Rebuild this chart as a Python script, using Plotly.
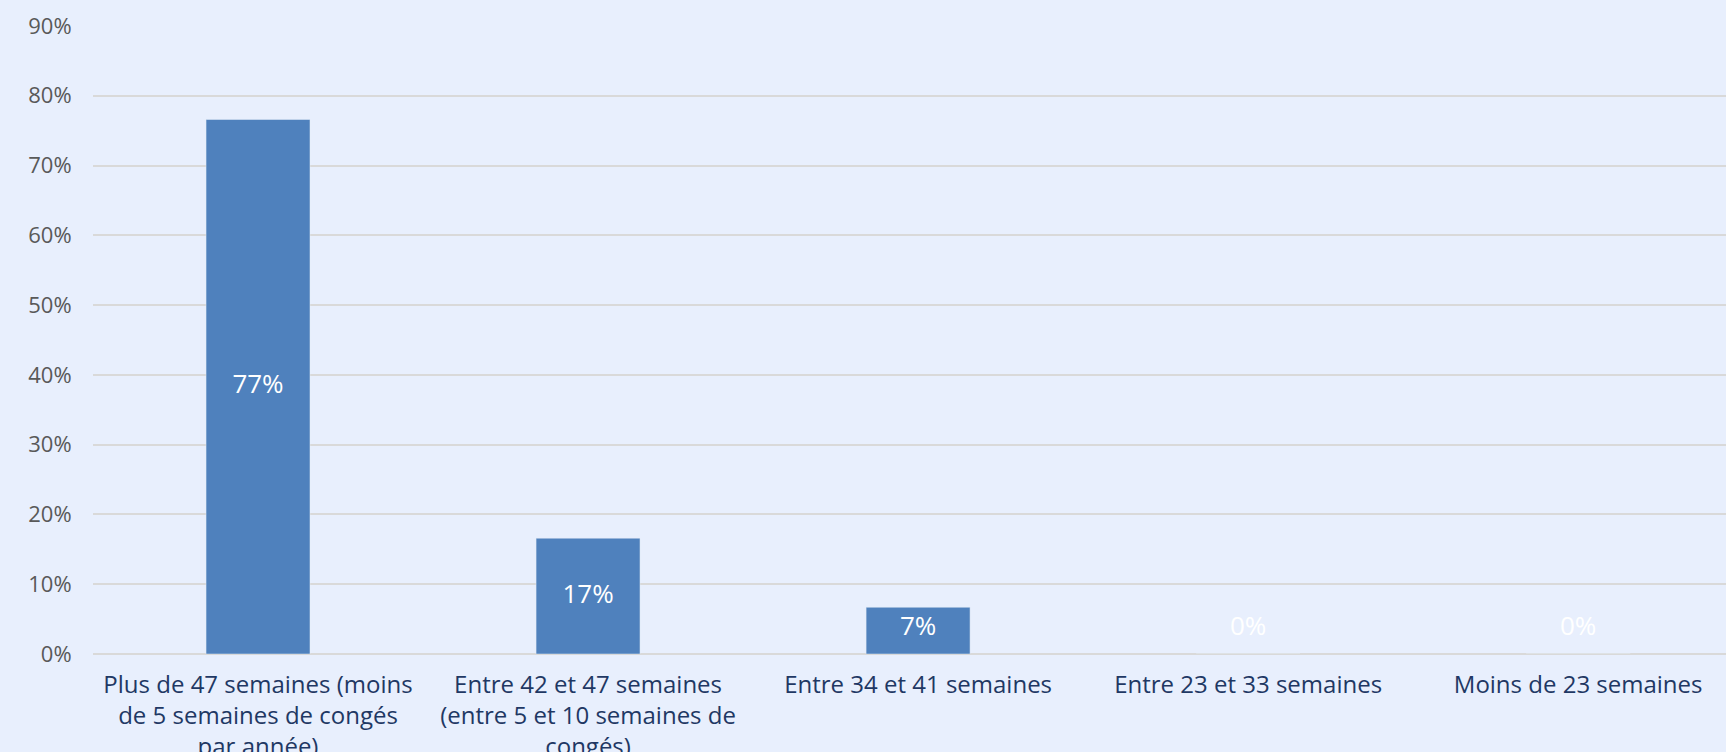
import plotly.graph_objects as go

categories = [
    "Plus de 47 semaines (moins<br>de 5 semaines de congés<br>par année)",
    "Entre 42 et 47 semaines<br>(entre 5 et 10 semaines de<br>congés)",
    "Entre 34 et 41 semaines",
    "Entre 23 et 33 semaines",
    "Moins de 23 semaines",
]
values = [76.6, 16.6, 6.7, 0.0, 0.0]
labels = ["77%", "17%", "7%", "0%", "0%"]
y_ticks = [0, 10, 20, 30, 40, 50, 60, 70, 80, 90]
y_tick_text = [f"{t}%" for t in y_ticks]

FONT = "Open Sans"
BG = "#e8effd"

fig = go.Figure()
fig.add_trace(go.Bar(
    x=categories, y=values, marker_color="#4f81bd", width=0.315,
    hoverinfo="skip", showlegend=False,
))
# value labels centred in bars (kept above a minimum height for tiny bars)
fig.add_trace(go.Scatter(
    x=categories, y=[max(v / 2, 3.7) for v in values], mode="text",
    text=labels, textfont=dict(family=FONT, size=26, color="white"),
    hoverinfo="skip", showlegend=False,
))

fig.update_layout(
    width=1726, height=752,
    paper_bgcolor=BG, plot_bgcolor=BG,
    margin=dict(l=93, r=0, t=26, b=98),
    font=dict(family=FONT),
)
fig.update_xaxes(
    range=[-0.5, 4.448], showgrid=False, showline=False, automargin=False,
    ticks="outside", ticklen=9, tickcolor="rgba(0,0,0,0)",
    tickfont=dict(family=FONT, size=24, color="#1f3864"),
    fixedrange=True,
)
fig.update_yaxes(
    range=[0, 90], tickvals=y_ticks, ticktext=y_tick_text, automargin=False,
    showgrid=True, gridcolor="#d9d9d9", gridwidth=2,
    zeroline=True, zerolinecolor="#d9d9d9", zerolinewidth=2,
    tickfont=dict(family=FONT, size=22, color="#595959"),
    ticks="outside", ticklen=16, tickcolor="rgba(0,0,0,0)",
    showline=False, fixedrange=True,
)
fig.write_html(
    "out.html",
    config={"displayModeBar": False},
    post_script="document.body.style.margin='0';document.body.style.overflow='hidden';",
)
